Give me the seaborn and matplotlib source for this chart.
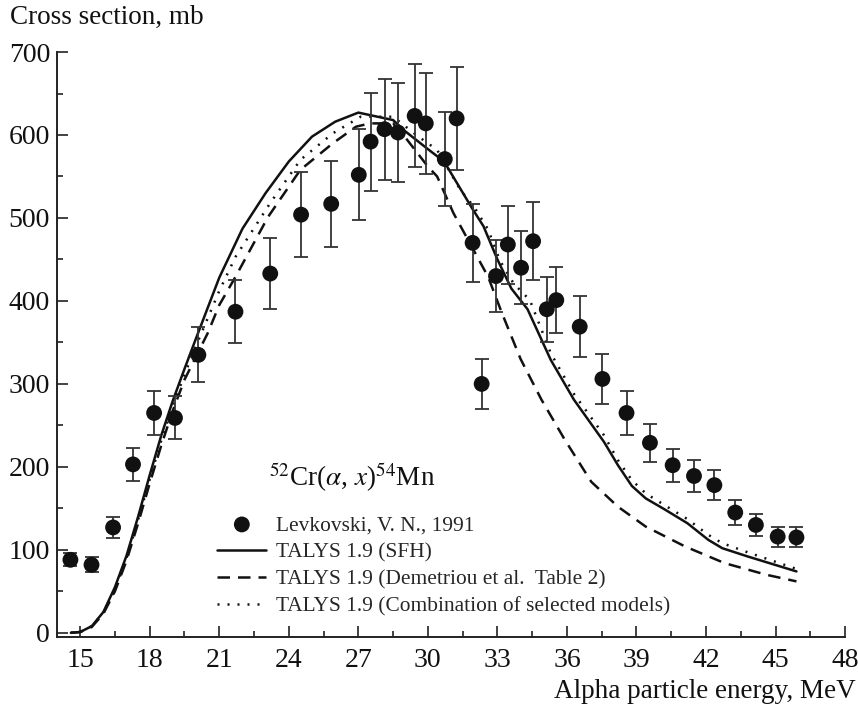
import matplotlib
matplotlib.use('Agg')
import matplotlib.pyplot as plt
import seaborn as sns
from matplotlib.ticker import MultipleLocator

# Experimental data: Levkovski, V. N., 1991
E_exp = [14.58, 15.49, 16.42, 17.28, 18.19, 19.09, 20.10, 21.70, 23.20, 24.53,
         25.83, 27.02, 27.53, 28.13, 28.71, 29.43, 29.91, 30.73, 31.24, 31.93,
         32.32, 32.94, 33.45, 34.02, 34.54, 35.13, 35.54, 36.55, 37.53, 38.57,
         39.58, 40.56, 41.48, 42.36, 43.26, 44.15, 45.09, 45.90]
sig_exp = [88, 82, 127, 203, 265, 259, 335, 387, 433, 504,
           517, 552, 592, 607, 603, 623, 614, 571, 620, 470,
           300, 430, 468, 440, 472, 390, 401, 369, 306, 265,
           229, 202, 189, 178, 145, 130, 116, 115]
err_exp = [8, 9, 13, 20, 26, 26, 33, 38, 43, 51,
           52, 55, 59, 61, 60, 62, 61, 57, 62, 47,
           30, 43, 47, 44, 47, 39, 40, 37, 30, 27,
           23, 20, 19, 18, 15, 13, 12, 12]

# TALYS 1.9 (SFH)
E_sfh = [14.6, 15.0, 15.5, 16.0, 16.5, 17.0, 17.5, 18.0, 18.5, 19.0, 19.5, 20.0,
         21.0, 22.0, 23.0, 24.0, 25.0, 26.0, 27.0, 28.0, 28.5, 29.0, 30.0, 30.7,
         31.3, 31.9, 32.4, 33.0, 33.6, 34.3, 35.3, 36.3, 37.6, 38.2, 38.8, 39.4,
         40.2, 41.2, 42.1, 42.7, 43.8, 45.9]
sig_sfh = [0, 1, 8, 25, 55, 93, 140, 190, 238, 280, 318, 355,
           428, 487, 530, 568, 598, 616, 627, 621, 618, 605, 583, 568,
           540, 512, 490, 450, 415, 390, 329, 281, 230, 202, 177, 162,
           149, 132, 112, 102, 92, 74]

# TALYS 1.9 (Demetriou et al. Table 2)
E_dem = [14.6, 15.0, 15.5, 16.0, 16.5, 17.0, 17.5, 18.0, 18.5, 19.0, 19.5, 20.0,
         20.5, 21.0, 21.7, 23.1, 24.5, 25.9, 26.9, 27.5, 28.5, 29.0, 30.0, 30.4,
         31.1, 31.9, 32.6, 33.2, 34.0, 34.9, 35.9, 37.05, 38.2, 39.4, 41.1, 42.8,
         44.6, 45.9]
sig_dem = [0, 1, 7, 23, 50, 87, 132, 180, 226, 268, 305, 333,
           361, 395, 429, 501, 558, 590, 610, 614, 614, 598, 562, 550,
           506, 465, 429, 385, 330, 281, 233, 182, 152, 128, 104, 84,
           70, 62]

# TALYS 1.9 (Combination of selected models)
E_com = [14.6, 15.0, 15.5, 16.0, 16.5, 17.0, 17.5, 18.0, 18.5, 19.0, 19.5, 20.0,
         21.0, 21.7, 23.2, 24.5, 25.9, 27.1, 28.5, 29.5, 30.4, 31.4, 32.0, 32.6,
         33.1, 33.7, 34.4, 35.3, 36.3, 37.6, 38.2, 38.8, 39.4, 40.2, 41.2, 42.1,
         42.7, 43.8, 45.9]
sig_com = [0, 1, 8, 24, 52, 90, 136, 185, 232, 274, 311, 346,
           412, 453, 518, 570, 602, 622, 622, 600, 582, 534, 513, 486,
           449, 421, 401, 337, 288, 238, 208, 184, 168, 154, 137, 118,
           108, 97, 77]

sns.set_style('ticks')
plt.rcParams['font.family'] = ['Liberation Serif', 'DejaVu Serif']
plt.rcParams['mathtext.fontset'] = 'stix'

fig = plt.figure(figsize=(8.58, 7.05), dpi=100)
ax = fig.add_axes([0.0664, 0.0965, 0.9186, 0.8297])

ax.errorbar(E_exp, sig_exp, yerr=err_exp, fmt='none', ecolor='#333333',
            elinewidth=1.3, capsize=5, capthick=1.3, zorder=3)
sns.scatterplot(x=E_exp, y=sig_exp, ax=ax, color='#111111', s=130,
                edgecolor='none', zorder=4, label='Levkovski, V. N., 1991')
sns.lineplot(x=E_sfh, y=sig_sfh, ax=ax, color='#111111', lw=1.8,
             linestyle='-', label='TALYS 1.9 (SFH)')
sns.lineplot(x=E_dem, y=sig_dem, ax=ax, color='#111111', lw=1.8,
             linestyle=(0, (5.0, 3.2)),
             label='TALYS 1.9 (Demetriou et al.  Table 2)')
sns.lineplot(x=E_com, y=sig_com, ax=ax, color='#111111', lw=1.8,
             linestyle=(0, (0.8, 3.2)),
             label='TALYS 1.9 (Combination of selected models)')

ax.set_xlim(14, 48)
ax.set_ylim(-5, 700)
ax.xaxis.set_major_locator(MultipleLocator(3))
ax.xaxis.set_minor_locator(MultipleLocator(1.5))
ax.yaxis.set_major_locator(MultipleLocator(100))
ax.yaxis.set_minor_locator(MultipleLocator(50))
ax.tick_params(which='both', direction='in', colors='#222222',
               labelcolor='#111111', labelsize=20, width=1.2)
ax.tick_params(which='major', length=8, pad=5)
ax.tick_params(axis='x', which='major', pad=8)
ax.tick_params(which='minor', length=4)
for s in ['top', 'right']:
    ax.spines[s].set_visible(False)
for s in ['left', 'bottom']:
    ax.spines[s].set_linewidth(1.4)
    ax.spines[s].set_color('#222222')

ax.set_xlabel('')
ax.set_ylabel('')
fig.text(0.012, 0.975, 'Cross section, mb', fontsize=19.5, ha='left',
         va='center', color='#111111')
fig.text(0.997, 0.019, 'Alpha particle energy, MeV', fontsize=19.5,
         ha='right', va='center', color='#111111')

ax.text(26.75, 188, r'$^{52}$Cr($\alpha$, $x$)$^{54}$Mn', fontsize=19.5,
        ha='center', va='center', color='#111111')

ax.legend(loc='upper left', bbox_to_anchor=(0.1925, 0.223), frameon=False,
          fontsize=15.4, handlelength=2.3, handletextpad=0.45,
          labelspacing=0.34, borderaxespad=0, markerscale=1.0)

fig.savefig('out.png', dpi=100)
